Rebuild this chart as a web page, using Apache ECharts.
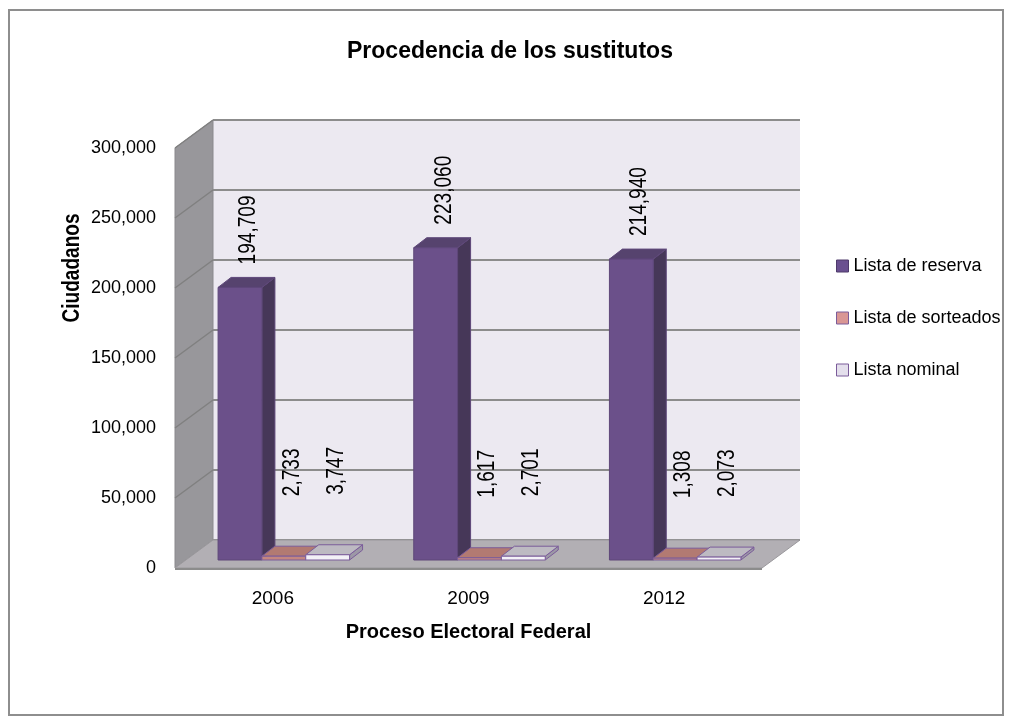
<!DOCTYPE html>
<html>
<head>
<meta charset="utf-8">
<title>Procedencia de los sustitutos</title>
<script src="https://cdn.jsdelivr.net/npm/echarts@6/dist/echarts.min.js"></script>
<style>
  html, body { margin: 0; padding: 0; background: #fff; }
  #chart { width: 1013px; height: 725px; }
</style>
</head>
<body>
<div id="chart"></div>
<script>
// datos
const categories = ['2006', '2009', '2012'];
const listaReserva = [194709, 223060, 214940];
const listaSorteados = [2733, 1617, 1308];
const listaNominal = [3747, 2701, 2073];
const yTicks = [0, 50000, 100000, 150000, 200000, 250000, 300000];
const seriesNames = ['Lista de reserva', 'Lista de sorteados', 'Lista nominal'];

const FONT = '"Liberation Sans", Arial, sans-serif';
// plano frontal (ejes); el fondo y las barras se desplazan en "profundidad"
const front = { left: 175, top: 148, width: 587, height: 420 };
const wallDx = 38, wallDy = -28;
const barDx = 11, barDy = -8;
const boxDx = 13, boxDy = -10;
const narrow = 0.83; // imita Arial Narrow en los textos dibujados a mano

const fmt = v => v.toLocaleString('en-US');

// colores de cada serie: frente, lado, arriba, borde
const palette = [
  { front: '#6b508a', side: '#463758', top: '#56436e', stroke: '#5e4779', legend: '#6a5090', legendBorder: '#4e3a6b' },
  { front: '#c48680', side: '#8e5f5a', top: '#b27a72', stroke: '#7b5c9a', legend: '#d99694', legendBorder: '#7b5c9a' },
  { front: '#f3f1f7', side: '#9c98a6', top: '#bdbac2', stroke: '#7b5c9a', legend: '#e4dfec', legendBorder: '#7b5c9a' }
];
const labelGap = [13, 50, 50];

var chart = echarts.init(document.getElementById('chart'));

// caja 3D para cada barra
function boxRenderer(k) {
  const c = palette[k];
  return function (params, api) {
    const cat = api.value(0), v = api.value(1);
    const base = api.coord([cat, 0]);
    const top = api.coord([cat, v]);
    const band = api.size([1, 0])[0];
    const w = band * 0.224;
    const x0 = base[0] - 1.5 * w + k * w;
    const yb = base[1], yt = top[1];
    const st = { stroke: c.stroke, lineWidth: 1 };
    return {
      type: 'group',
      children: [
        { type: 'polygon', shape: { points: [[x0 + w, yt], [x0 + w + boxDx, yt + boxDy], [x0 + w + boxDx, yb + boxDy], [x0 + w, yb]] },
          style: Object.assign({ fill: c.side }, st) },
        { type: 'polygon', shape: { points: [[x0, yt], [x0 + boxDx, yt + boxDy], [x0 + w + boxDx, yt + boxDy], [x0 + w, yt]] },
          style: Object.assign({ fill: c.top }, st) },
        { type: 'rect', shape: { x: x0, y: yt, width: w, height: yb - yt },
          style: Object.assign({ fill: c.front }, st) },
        { type: 'text', x: x0 + w / 2 + boxDx / 2 + 2, y: yt + boxDy - labelGap[k],
          rotation: Math.PI / 2, scaleX: narrow,
          style: { text: fmt(v), font: '23px ' + FONT, fill: '#000', align: 'left', verticalAlign: 'middle' } }
      ]
    };
  };
}

// paredes: lateral izquierda y piso
function wallRenderer(params, api) {
  const cs = params.coordSys;
  const bx = cs.x, bw = cs.width;
  const y0 = api.coord([0, 0])[1];
  const yMax = api.coord([0, yTicks[yTicks.length - 1]])[1];
  const children = [
    { type: 'polygon', shape: { points: [[bx - wallDx, yMax - wallDy], [bx, yMax], [bx, y0], [bx - wallDx, y0 - wallDy]] },
      style: { fill: '#98979b', stroke: '#8a898d', lineWidth: 1 } },
    { type: 'polygon', shape: { points: [[bx - wallDx, y0 - wallDy], [bx, y0], [bx + bw, y0], [bx + bw - wallDx, y0 - wallDy]] },
      style: { fill: '#b2afb4', stroke: '#9a989c', lineWidth: 1 } },
    { type: 'line', shape: { x1: bx - wallDx, y1: y0 - wallDy + 1, x2: bx + bw - wallDx, y2: y0 - wallDy + 1 },
      style: { stroke: '#8c8c8c', lineWidth: 2 } }
  ];
  yTicks.slice(1).forEach(t => {
    const y = api.coord([0, t])[1];
    children.push({ type: 'line', shape: { x1: bx, y1: y, x2: bx - wallDx, y2: y - wallDy },
      style: { stroke: '#808080', lineWidth: 1.5 } });
  });
  return { type: 'group', children: children };
}

const yMax = yTicks[yTicks.length - 1];
const yStep = yTicks[1] - yTicks[0];

var option = {
  animation: false,
  backgroundColor: '#fff',
  title: {
    text: 'Procedencia de los sustitutos',
    left: 342,
    top: 35,
    textStyle: { fontFamily: FONT, fontSize: 23, fontWeight: 'bold', color: '#000' }
  },
  legend: {
    orient: 'vertical',
    left: 831,
    top: 252,
    itemWidth: 12,
    itemHeight: 12,
    itemGap: 34,
    icon: 'rect',
    textStyle: { fontFamily: FONT, fontSize: 18, color: '#000' },
    data: seriesNames.map((n, i) => ({
      name: n,
      itemStyle: { color: palette[i].legend, borderColor: palette[i].legendBorder, borderWidth: 1 }
    }))
  },
  grid: [
    // plano de las barras
    { left: front.left + barDx, top: front.top + barDy, width: front.width, height: front.height },
    // plano frontal con los ejes
    { left: front.left, top: front.top, width: front.width, height: front.height },
    // pared del fondo
    { left: front.left + wallDx, top: front.top + wallDy, width: front.width, height: front.height,
      show: true, backgroundColor: '#ece9f1', borderWidth: 0 }
  ],
  xAxis: [
    { type: 'category', gridIndex: 0, data: categories, show: false },
    { type: 'category', gridIndex: 1, data: categories,
      axisLine: { show: false }, axisTick: { show: false },
      axisLabel: { margin: 21, fontFamily: FONT, fontSize: 19, color: '#000' },
      name: 'Proceso Electoral Federal', nameLocation: 'middle', nameGap: 54,
      nameTextStyle: { fontFamily: FONT, fontSize: 20, fontWeight: 'bold', color: '#000' } },
    { type: 'category', gridIndex: 2, data: categories, show: false }
  ],
  yAxis: [
    { type: 'value', gridIndex: 0, min: 0, max: yMax, interval: yStep, show: false },
    { type: 'value', gridIndex: 1, min: 0, max: yMax, interval: yStep,
      axisLine: { show: false }, axisTick: { show: false }, splitLine: { show: false },
      axisLabel: { margin: 19, fontFamily: FONT, fontSize: 18, color: '#000', formatter: fmt } },
    { type: 'value', gridIndex: 2, min: 0, max: yMax, interval: yStep, z: 1,
      axisLine: { show: false }, axisTick: { show: false }, axisLabel: { show: false },
      splitLine: { show: true, lineStyle: { color: '#8c8c8c', width: 2 } } }
  ],
  graphic: [
    { type: 'rect', shape: { x: 9, y: 10, width: 994, height: 705 },
      style: { fill: 'none', stroke: '#8e8e8e', lineWidth: 2 }, silent: true },
    { type: 'text', x: 73, y: 268, rotation: Math.PI / 2, scaleX: narrow,
      style: { text: 'Ciudadanos', font: 'bold 23px ' + FONT, fill: '#000', align: 'center', verticalAlign: 'middle' } }
  ],
  series: [
    { type: 'custom', name: 'paredes', xAxisIndex: 2, yAxisIndex: 2, z: 2, silent: true,
      renderItem: wallRenderer, data: [[0, 0]] },
    { type: 'custom', name: seriesNames[0], xAxisIndex: 0, yAxisIndex: 0, z: 3,
      itemStyle: { color: palette[0].legend },
      renderItem: boxRenderer(0), data: categories.map((c, i) => [i, listaReserva[i]]) },
    { type: 'custom', name: seriesNames[1], xAxisIndex: 0, yAxisIndex: 0, z: 3,
      itemStyle: { color: palette[1].legend },
      renderItem: boxRenderer(1), data: categories.map((c, i) => [i, listaSorteados[i]]) },
    { type: 'custom', name: seriesNames[2], xAxisIndex: 0, yAxisIndex: 0, z: 3,
      itemStyle: { color: palette[2].legend },
      renderItem: boxRenderer(2), data: categories.map((c, i) => [i, listaNominal[i]]) }
  ]
};

chart.setOption(option);
</script>
</body>
</html>
